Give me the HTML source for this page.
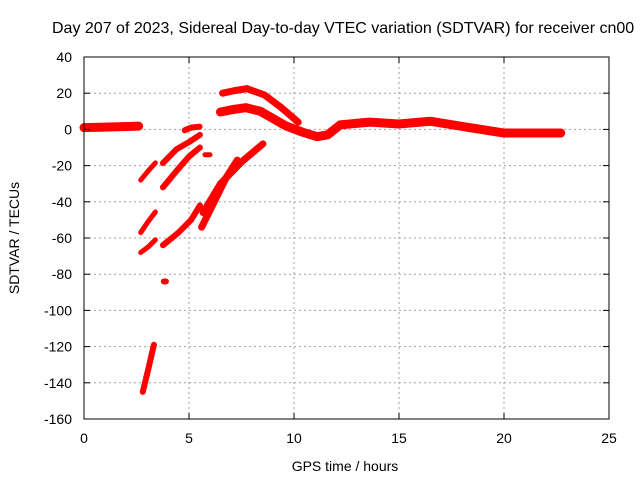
<!DOCTYPE html>
<html><head><meta charset="utf-8"><style>
body{margin:0;background:#fff}
svg{display:block;font-family:"Liberation Sans",sans-serif;font-size:14px}
</style></head><body>
<svg id="c" width="640" height="480">
<rect width="640" height="480" fill="#fff"/>
<text x="52" y="33" font-size="16">Day 207 of 2023, Sidereal Day-to-day VTEC variation (SDTVAR) for receiver cn00</text>
<g id="grid"></g>
<g id="series"></g>
<rect x="84" y="57" width="525" height="362" fill="none" stroke="#000"/>
<g id="ticks"></g>
<text x="345" y="471" text-anchor="middle">GPS time / hours</text>
<text transform="translate(19,238) rotate(-90)" text-anchor="middle">SDTVAR / TECUs</text>
</svg>
<script>
const xTicks=[0,5,10,15,20,25];
const yTicks=[40,20,0,-20,-40,-60,-80,-100,-120,-140,-160];
const arc1=[[0,1],[1.2,1.3],[2.6,1.8]];
const arc2=[[2.7,-28],[3.05,-23],[3.4,-18.5]];
const arc3=[[2.7,-57],[3.05,-51],[3.4,-45.6]];
const arc4=[[2.7,-68],[3.05,-65],[3.4,-61]];
const arc5=[[2.8,-145],[3.05,-133],[3.33,-119]];
const arc6=[[3.8,-84],[3.9,-84]];
const arc7=[[3.76,-18.6],[4.4,-11],[5.0,-7],[5.52,-3]];
const arc8=[[3.76,-32],[4.4,-23],[5.0,-15],[5.52,-10]];
const arc9=[[4.8,-0.5],[5.1,1],[5.5,1.5]];
const arc10=[[3.76,-64],[4.5,-57],[5.1,-50],[5.52,-42]];
const arc11=[[5.76,-14],[6.0,-14]];
const arc12=[[5.6,-54],[6.2,-40],[6.8,-26],[7.3,-17]];
const arc13=[[5.67,-46],[6.5,-30],[7.5,-18],[8.52,-8]];
const arc14=[[6.6,20],[7.2,21.5],[7.76,22.5],[8.6,19],[9.4,12],[10.2,4]];
const arc15=[[6.5,9.6],[7.1,11],[7.7,12],[8.4,10],[9.6,2],[10.4,-1.5],[11.1,-4],[11.6,-3],[12.2,2.5],[13.6,4],[15,3],[16.5,4.5],[18.2,1.3],[20,-2],[21.7,-2],[22.7,-2]];
const arcs=[[arc1,9],[arc2,5],[arc3,5],[arc4,5],[arc5,6],[arc6,6],[arc7,6],[arc8,6],[arc9,6],[arc10,6],[arc11,5],[arc12,7],[arc13,7],[arc14,7],[arc15,9]];
const X=h=>84+h*21, Y=v=>57+(40-v)*1.81;
const ns="http://www.w3.org/2000/svg";
const grid=document.getElementById('grid'),ticks=document.getElementById('ticks'),ser=document.getElementById('series');
function mk(tag,attrs,parent){const e=document.createElementNS(ns,tag);for(const k in attrs)e.setAttribute(k,attrs[k]);parent.appendChild(e);return e;}
xTicks.forEach(t=>{
  if(t>0&&t<25){const g=mk('line',{x1:X(t),x2:X(t),y1:57,y2:419,stroke:'#a0a0a0','stroke-dasharray':'2,3'},grid);
  
  }
  mk('line',{x1:X(t),x2:X(t),y1:419,y2:413,stroke:'#000'},ticks);
  mk('line',{x1:X(t),x2:X(t),y1:57,y2:63,stroke:'#000'},ticks);
  const l=mk('text',{x:X(t),y:443,'text-anchor':'middle'},ticks);l.textContent=t;
  
  
});
yTicks.forEach(t=>{
  if(t<40&&t>-160){const g=mk('line',{x1:84,x2:609,y1:Y(t),y2:Y(t),stroke:'#a0a0a0','stroke-dasharray':'2,3'},grid);
  
  }
  mk('line',{x1:84,x2:90,y1:Y(t),y2:Y(t),stroke:'#000'},ticks);
  mk('line',{x1:603,x2:609,y1:Y(t),y2:Y(t),stroke:'#000'},ticks);
  const l=mk('text',{x:72,y:Y(t)+5,'text-anchor':'end'},ticks);l.textContent=t;
  
  
});
arcs.forEach(([pts,w])=>{
  let d='M'+X(pts[0][0])+' '+Y(pts[0][1]);
  for(let i=1;i<pts.length;i++) d+=' L'+X(pts[i][0])+' '+Y(pts[i][1]);
  const p=mk('path',{d:d,fill:'none',stroke:'#ff0000','stroke-width':w,'stroke-linecap':'round','stroke-linejoin':'round'},ser);
  
  
});
</script>
</body></html>
